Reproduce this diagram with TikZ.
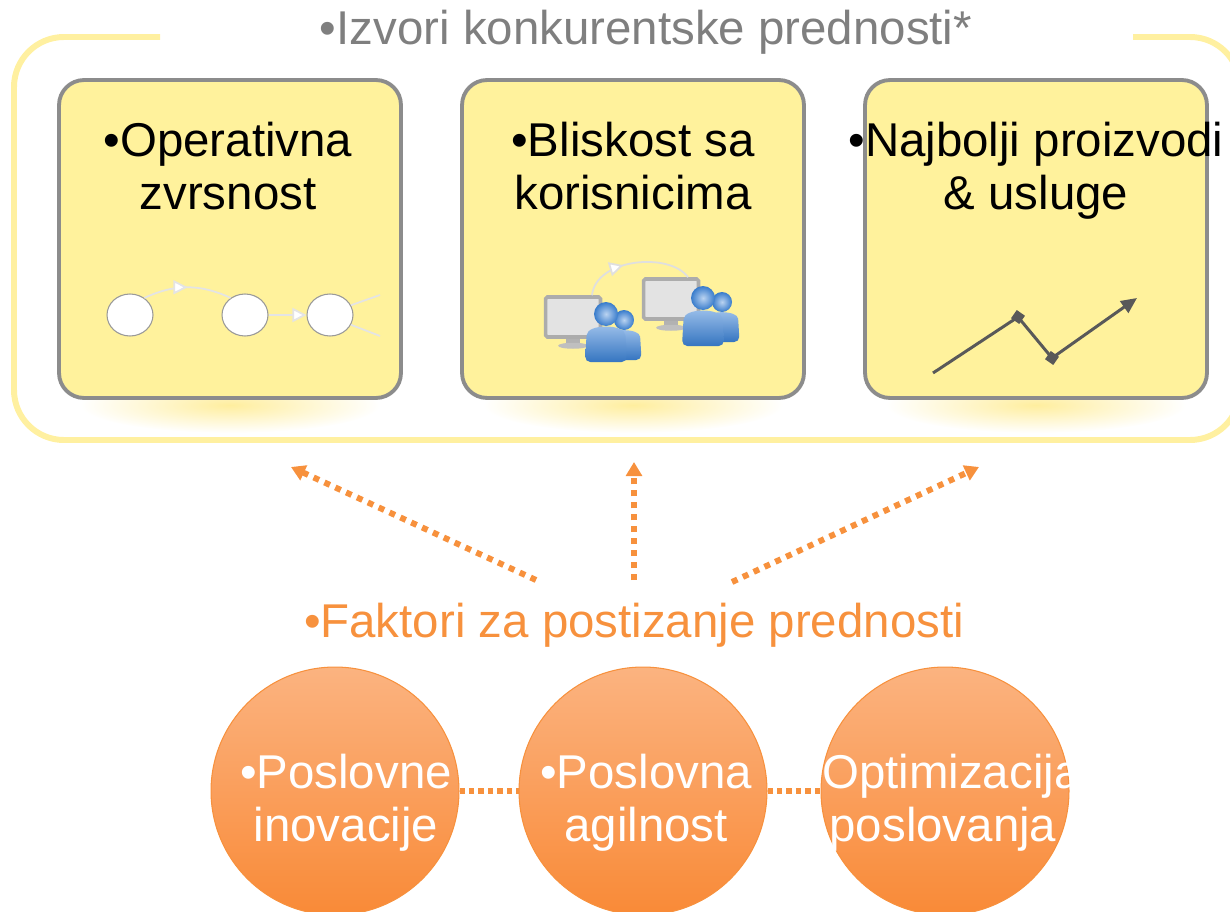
\documentclass[tikz,border=0pt]{standalone}
\usepackage{fontspec}
\setmainfont{Liberation Sans}
\usetikzlibrary{positioning,arrows.meta,decorations.markings,shapes.geometric}

\definecolor{framey}{HTML}{FFF0A0}
\definecolor{boxy}{HTML}{FFF29C}
\definecolor{boxgray}{HTML}{8C8C8C}
\definecolor{titlegray}{HTML}{7F7F7F}
\definecolor{orng}{HTML}{F7913D}
\definecolor{orngtop}{HTML}{FBB380}
\definecolor{orngbot}{HTML}{F98A37}
\definecolor{iconline}{HTML}{E4E4E4}
\definecolor{chartgray}{HTML}{595959}
\definecolor{pblue}{HTML}{3B82D6}
\definecolor{glowy}{HTML}{FFEE9E}

\tikzset{
  bigtext/.style={font=\fontsize{27}{30}\selectfont, align=center, inner sep=0pt},
  srcbox/.style={draw=boxgray, line width=2.2pt, fill=boxy, rounded corners=0.5cm,
    minimum width=6.84cm, minimum height=6.36cm},
  factor/.style={circle, draw=orng, line width=0.6pt, top color=orngtop,
    bottom color=orngbot, minimum size=4.96cm},
  stepnode/.style={ellipse, draw=gray!80, fill=white, line width=0.6pt,
    minimum width=0.92cm, minimum height=0.84cm, inner sep=0pt},
  monitor/.style={rectangle, draw=gray!65, line width=2pt, fill=gray!22,
    rounded corners=1pt, minimum width=1.1cm, minimum height=0.8cm},
  iconarrow/.style={draw=iconline, line width=1pt},
  midtip/.style={postaction={decorate}, decoration={markings,
    mark=at position #1 with {\arrow{Triangle[length=8pt,width=8pt,fill=white]}}}},
  pushes/.style={draw=orng, line width=3.4pt, dash pattern=on 3.4pt off 3.4pt,
    -{Triangle[length=8pt,width=9pt]}},
  links/.style={draw=orng, line width=3.4pt, dash pattern=on 3pt off 2.4pt},
  marker/.style={rectangle, fill=chartgray, minimum size=0.2cm, inner sep=0pt, rotate=-35}
}

\begin{document}
\begin{tikzpicture}[x=0.02cm, y=-0.02cm]
\useasboundingbox (0,0) rectangle (1230,912);

% glow under the boxes
\foreach \gx in {230,633,1036}
  \shade[inner color=glowy, outer color=white] (\gx,405) ellipse (150 and 28);

% outer frame
\draw[framey, line width=3.4pt, rounded corners=1cm]
  (160,37) -- (14,37) -- (14,440) -- (1240,440) -- (1240,37) -- (1133,37);
\node[bigtext, text=titlegray, anchor=base] (izvori) at (646,45) {•Izvori konkurentske prednosti*};

% sources
\node[srcbox] (opx) at (230,239) {};
\node[srcbox] (blis) at (633,239) {};
\node[srcbox] (najb) at (1036,239) {};
\node[bigtext, anchor=north] (opxt) at (228,122) {•Operativna\\zvrsnost};
\node[bigtext, anchor=north] (blist) at (633,122) {•Bliskost sa\\korisnicima};
\node[bigtext, anchor=north] (najbt) at (1036,122) {•Najbolji proizvodi\\\& usluge};

% process icon
\node[stepnode] (s1) at (130,315) {};
\node[stepnode] (s2) at (245,315) {};
\node[stepnode] (s3) at (330,315) {};
\coordinate (o1) at (380,295);
\coordinate (o2) at (380,336);
\draw[iconarrow, midtip=0.5] (s1.50) to[bend left=25] (s2.130);
\draw[iconarrow, -{Triangle[length=8pt,width=8pt,fill=white]}] (s2) -- (s3);
\draw[iconarrow] (s3.25) -- (o1);
\draw[iconarrow] (s3.-25) -- (o2);

% customers icon
\node[monitor] (mon1) at (573,317) {};
\node[monitor] (mon2) at (671,299) {};
\foreach \m in {mon1,mon2} {
  \fill[gray!60] ([xshift=-0.14cm]\m.south) rectangle ([xshift=0.14cm,yshift=-0.12cm]\m.south);
  \fill[gray!50] ([yshift=-0.14cm]\m.south) ellipse (15 and 3);
}
\draw[iconarrow, draw=gray!25, midtip=0.4] ([xshift=0.38cm]mon1.north)
  .. controls (596,258) and (670,252) .. ([xshift=0.34cm]mon2.north);
\foreach \px/\py/\r in {624/320/10, 606/314/12, 722/302/10, 703/298/12} {
  \shade[top color=pblue!50!white, bottom color=pblue!90!black, rounded corners=3pt]
    (\px-1.75*\r,\py+4*\r) -- (\px-1.65*\r,\py+2.2*\r)
    .. controls (\px-1.55*\r,\py+0.8*\r) and (\px+1.55*\r,\py+0.8*\r) .. (\px+1.65*\r,\py+2.2*\r)
    -- (\px+1.75*\r,\py+4*\r) -- cycle;
  \shade[inner color=pblue!35!white, outer color=pblue!95!black] (\px,\py) circle (\r);
}

% growth chart
\coordinate (c0) at (933,373);
\coordinate (c3) at (1137,298);
\draw[chartgray, line width=1.7pt, -{Triangle[length=9pt,width=8pt]}]
  (c0) -- (1018,317) node[marker] (p1) {} -- (1052,358) node[marker] (p2) {} -- (c3);

% factors
\coordinate (f1) at (536,580);
\coordinate (f2) at (634,580);
\coordinate (f3) at (732,582);
\coordinate (t1) at (291,467);
\coordinate (t2) at (634,462);
\coordinate (t3) at (979,467);
\draw[pushes] (f1) -- (t1);
\draw[pushes] (f2) -- (t2);
\draw[pushes] (f3) -- (t3);
\node[bigtext, text=orng, anchor=base] (faktori) at (634,637) {•Faktori za postizanje prednosti};

\node[factor] (inov) at (335,791) {};
\node[factor] (agil) at (643,791) {};
\node[factor] (optim) at (945,791) {};
\draw[links] (inov) -- (agil);
\draw[links] (agil) -- (optim);
\node[bigtext, text=white, anchor=north] (inovt) at (346,754) {•Poslovne\\inovacije};
\node[bigtext, text=white, anchor=north] (agilt) at (646,754) {•Poslovna\\agilnost};
\node[bigtext, text=white, anchor=north] (optimt) at (943,754) {•Optimizacija\\poslovanja};
\end{tikzpicture}
\end{document}
